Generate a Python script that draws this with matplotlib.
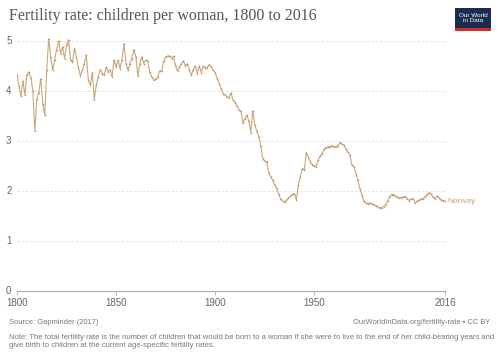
import matplotlib.pyplot as plt
from matplotlib.patches import Rectangle

years = list(range(1800, 2017))
fertility = [
    4.33, 4.10, 3.90, 4.20, 3.92, 4.33, 4.38, 4.27, 4.00, 3.20,  # 1800s
    3.85, 3.97, 4.25, 3.75, 3.52, 4.42, 5.05, 4.68, 4.42, 4.62,  # 1810s
    4.83, 5.00, 4.75, 4.88, 4.65, 4.92, 5.02, 4.62, 4.58, 4.85,  # 1820s
    4.68, 4.47, 4.30, 4.42, 4.55, 4.72, 4.22, 4.12, 4.37, 3.83,  # 1830s
    4.12, 4.28, 4.43, 4.35, 4.32, 4.48, 4.38, 4.43, 4.28, 4.62,  # 1840s
    4.48, 4.62, 4.45, 4.63, 4.95, 4.55, 4.42, 4.55, 4.65, 4.83,  # 1850s
    4.68, 4.30, 4.55, 4.68, 4.55, 4.62, 4.60, 4.38, 4.28, 4.22,  # 1860s
    4.25, 4.28, 4.40, 4.40, 4.60, 4.68, 4.70, 4.70, 4.65, 4.70,  # 1870s
    4.50, 4.40, 4.48, 4.55, 4.60, 4.50, 4.55, 4.42, 4.32, 4.43,  # 1880s
    4.50, 4.35, 4.50, 4.37, 4.50, 4.47, 4.47, 4.53, 4.48, 4.42,  # 1890s
    4.37, 4.25, 4.15, 4.05, 3.95, 3.92, 3.88, 3.87, 3.96, 3.82,  # 1900s
    3.78, 3.70, 3.62, 3.60, 3.36, 3.45, 3.52, 3.40, 3.17, 3.61,  # 1910s
    3.32, 3.20, 3.09, 2.90, 2.65, 2.60, 2.59, 2.37, 2.29, 2.22,  # 1920s
    2.12, 2.06, 1.95, 1.84, 1.80, 1.78, 1.82, 1.86, 1.90, 1.93,  # 1930s
    1.95, 1.82, 2.12, 2.29, 2.45, 2.42, 2.77, 2.69, 2.58, 2.53,  # 1940s
    2.50, 2.49, 2.62, 2.70, 2.75, 2.84, 2.87, 2.89, 2.88, 2.91,  # 1950s
    2.88, 2.89, 2.91, 2.97, 2.94, 2.92, 2.84, 2.78, 2.72, 2.52,  # 1960s
    2.49, 2.35, 2.22, 2.05, 1.93, 1.80, 1.76, 1.75, 1.76, 1.74,  # 1970s
    1.73, 1.71, 1.69, 1.66, 1.67, 1.69, 1.73, 1.80, 1.89, 1.93,  # 1980s
    1.93, 1.90, 1.88, 1.87, 1.87, 1.88, 1.89, 1.84, 1.81, 1.85,  # 1990s
    1.84, 1.76, 1.80, 1.82, 1.84, 1.85, 1.89, 1.93, 1.97, 1.94,  # 2000s
    1.88, 1.85, 1.90, 1.86, 1.83, 1.81, 1.80,                    # 2010s
]
x_ticks = [1800, 1850, 1900, 1950, 2016]
y_ticks = [0, 1, 2, 3, 4, 5]
country = "Norway"

line_color = "#cba67c"
marker_color = "#bb905e"
text_gray = "#666666"
sans = "Liberation Sans"

fig = plt.figure(figsize=(5, 3.53), dpi=100)
ax = fig.add_axes([0.034, 0.1756, 0.856, 0.7224])

ax.plot(years, fertility, color=line_color, lw=0.8, marker="o", ms=0.8,
        mfc=marker_color, mec=marker_color, mew=0.3, zorder=3)

ax.set_xlim(1800, 2016)
ax.set_ylim(0, 5.1)
ax.set_xticks(x_ticks)
ax.set_yticks(y_ticks)
ax.set_xticklabels([str(t) for t in x_ticks], fontsize=7, color=text_gray, family=sans)
ax.set_yticklabels([str(t) for t in y_ticks], fontsize=7, color=text_gray, family=sans)
ax.tick_params(axis="y", length=0, pad=4)
ax.tick_params(axis="x", length=3, color="#aaaaaa", width=0.6, pad=2)
for t in ax.get_yticklabels():
    t.set_verticalalignment("center")

for y in y_ticks[1:]:
    ax.axhline(y, color="#dddddd", lw=0.6, ls=(0, (3, 2)), zorder=1)

for s in ["top", "right", "left"]:
    ax.spines[s].set_visible(False)
ax.spines["bottom"].set_color("#aaaaaa")
ax.spines["bottom"].set_linewidth(0.8)

ax.annotate(country, xy=(years[-1], fertility[-1]), xytext=(2, 0),
            textcoords="offset points", va="center", ha="left",
            fontsize=6, color=line_color, family=sans, annotation_clip=False)

fig.text(0.018, 0.955, "Fertility rate: children per woman, 1800 to 2016",
         fontsize=11.5, family="Liberation Serif", color="#555555", va="center")

# logo
fig.patches.append(Rectangle((0.91, 0.918), 0.072, 0.06, transform=fig.transFigure,
                             facecolor="#1a2c4f", edgecolor="none"))
fig.patches.append(Rectangle((0.91, 0.912), 0.072, 0.008, transform=fig.transFigure,
                             facecolor="#d42b2b", edgecolor="none"))
fig.text(0.946, 0.949, "Our World\nin Data", fontsize=4.6, family=sans,
         color="white", ha="center", va="center", linespacing=1.0)

fig.text(0.018, 0.085, "Source: Gapminder (2017)", fontsize=5.4,
         family=sans, color="#777777", va="center")
fig.text(0.98, 0.085, "OurWorldInData.org/fertility-rate \u2022 CC BY", fontsize=5.4,
         family=sans, color="#777777", va="center", ha="right")
fig.text(0.018, 0.032,
         "Note: The total fertility rate is the number of children that would be born to a woman "
         "if she were to live to the end of her child-bearing years and\n"
         "give birth to children at the current age-specific fertility rates.",
         fontsize=5.5, family=sans, color="#777777", va="center", linespacing=1.25)

fig.savefig("out.png", dpi=100)
